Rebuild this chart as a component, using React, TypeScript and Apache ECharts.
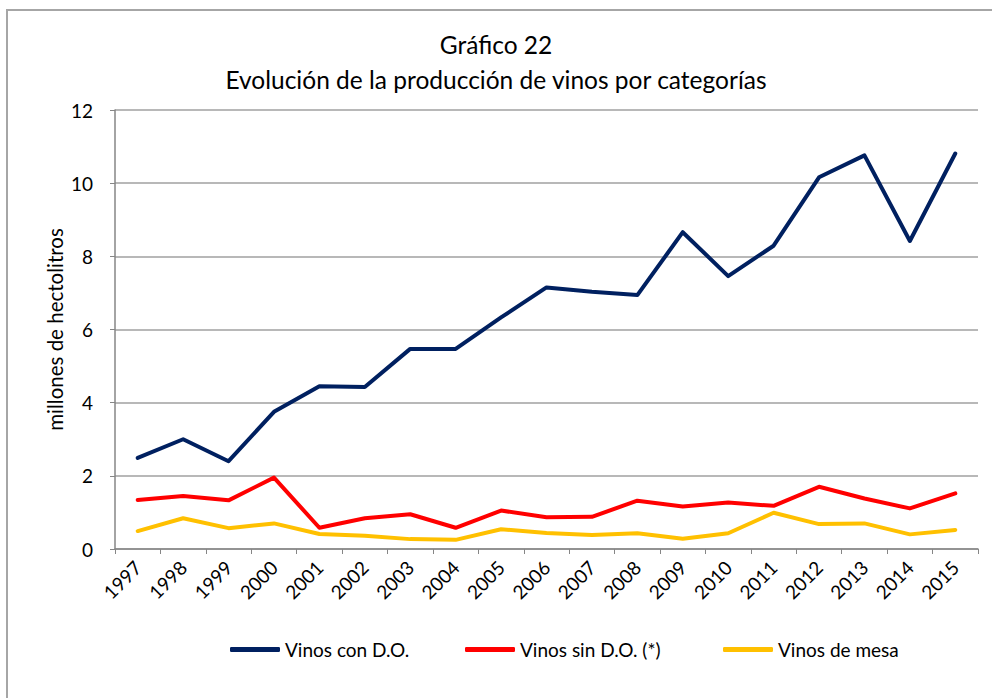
import React, { useEffect, useRef } from "react";
import * as echarts from "echarts";

const years = ["1997","1998","1999","2000","2001","2002","2003","2004","2005","2006","2007","2008","2009","2010","2011","2012","2013","2014","2015"];
const vinosConDO = [2.49, 3.0, 2.4, 3.75, 4.45, 4.43, 5.47, 5.47, 6.33, 7.15, 7.03, 6.94, 8.66, 7.46, 8.29, 10.16, 10.76, 8.42, 10.81];
const vinosSinDO = [1.34, 1.45, 1.33, 1.95, 0.58, 0.84, 0.95, 0.58, 1.05, 0.87, 0.88, 1.32, 1.16, 1.27, 1.18, 1.70, 1.38, 1.11, 1.52];
const vinosMesa = [0.49, 0.84, 0.57, 0.70, 0.41, 0.36, 0.27, 0.25, 0.54, 0.44, 0.38, 0.43, 0.28, 0.43, 0.99, 0.68, 0.70, 0.40, 0.52];
const seriesNames = ["Vinos con D.O.", "Vinos sin D.O. (*)", "Vinos de mesa"];
const colors = ["#002060", "#FF0000", "#FFC000"];
const legendLefts = [225, 460, 718];

const FONT = "Lato, 'Open Sans', sans-serif";

export default function App() {
  const ref = useRef<HTMLDivElement>(null);
  useEffect(() => {
    document.body.style.margin = "0";
    if (!ref.current) return;
    const chart = echarts.init(ref.current, null, { renderer: "svg" });
    const mk = (name: string, data: number[], color: string) => ({
      name,
      type: "line",
      data,
      symbol: "none",
      lineStyle: { color, width: 4, cap: "round", join: "round" },
      itemStyle: { color },
    });
    chart.setOption({
      animation: false,
      backgroundColor: "#ffffff",
      textStyle: { fontFamily: FONT },
      graphic: [
        {
          type: "rect",
          shape: { x: 7, y: 10, width: 1100, height: 800 },
          style: { fill: "none", stroke: "#a6a6a6", lineWidth: 2 },
          silent: true,
          z: -10,
        },
      ],
      title: {
        text: "Gráfico 22\nEvolución de la producción de vinos por categorías",
        left: "center",
        top: 22,
        textStyle: {
          fontFamily: FONT,
          fontSize: 24.5,
          fontWeight: "normal",
          color: "#000",
          lineHeight: 35,
        },
      },
      legend: seriesNames.map((n, i) => ({
        top: 635,
        left: legendLefts[i],
        icon: "roundRect",
        itemWidth: 50,
        itemHeight: 5,
        itemGap: 0,
        textStyle: { fontFamily: FONT, fontSize: 19, color: "#000" },
        data: [n],
      })),
      grid: { left: 115, right: 14, top: 110, bottom: 149 },
      xAxis: {
        type: "category",
        data: years,
        boundaryGap: true,
        axisLine: { lineStyle: { color: "#868686", width: 1.5 } },
        axisTick: { show: true, length: 5, lineStyle: { color: "#868686" } },
        axisLabel: {
          rotate: 45,
          fontFamily: FONT,
          fontSize: 19,
          color: "#000",
          margin: 15,
          interval: 0,
        },
      },
      yAxis: {
        type: "value",
        min: 0,
        max: 12,
        interval: 2,
        name: "millones de hectolitros",
        nameLocation: "middle",
        nameRotate: 90,
        nameGap: 50,
        nameMoveOverlap: false,
        nameTextStyle: { fontFamily: FONT, fontSize: 20.5, color: "#000" },
        axisLine: { show: true, lineStyle: { color: "#868686", width: 1.5 } },
        axisTick: { show: true, length: 5, lineStyle: { color: "#868686" } },
        axisLabel: { fontFamily: FONT, fontSize: 19, color: "#000", margin: 22 },
        splitLine: { lineStyle: { color: "#a0a0a0", width: 1.5 } },
      },
      series: [
        mk(seriesNames[0], vinosConDO, colors[0]),
        mk(seriesNames[1], vinosSinDO, colors[1]),
        mk(seriesNames[2], vinosMesa, colors[2]),
      ],
    });
    return () => chart.dispose();
  }, []);
  return <div ref={ref} style={{ width: 992, height: 698 }} />;
}
